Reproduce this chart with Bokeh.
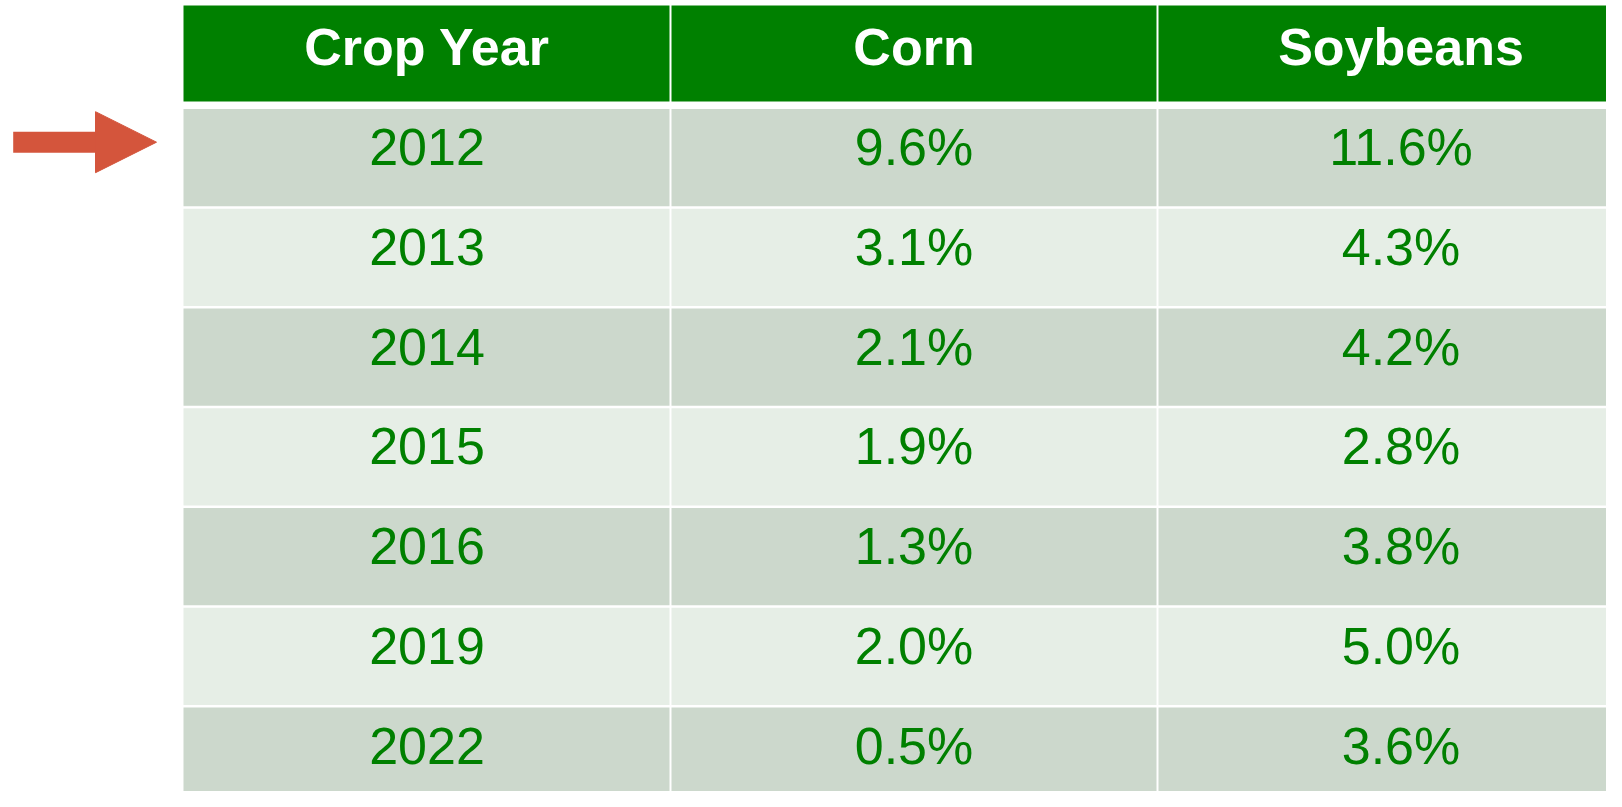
from bokeh.plotting import figure
from bokeh.models import Range1d, ColumnDataSource, Arrow, NormalHead
from bokeh.core.properties import value
from bokeh.embed import file_html
from bokeh.resources import INLINE

# ---- data ----
headers = ["Crop Year", "Corn", "Soybeans"]
years = ["2012", "2013", "2014", "2015", "2016", "2019", "2022"]
corn = [9.6, 3.1, 2.1, 1.9, 1.3, 2.0, 0.5]
soybeans = [11.6, 4.3, 4.2, 2.8, 3.8, 5.0, 3.6]
highlight_row = 0

# ---- layout / style ----
HEADER_BG = "#008000"
ROW_DARK = "#CCD8CC"
ROW_LIGHT = "#E6EEE6"
TEXT_GREEN = "#008000"
ARROW_COLOR = "#D4553C"
FONT = "Liberation Sans"

table_left = 183.0
col_w = 487.0
gap = 2.0
header_top, header_bottom = 5.0, 101.0
rows_top = 108.5
row_pitch = 99.75
row_h = 97.3
header_text_dy = 41.5
row_text_dy = 38.0

W, H = 1606, 791
p = figure(width=W, height=H, output_backend="svg", toolbar_location=None,
           x_range=Range1d(0, W), y_range=Range1d(H, 0),
           min_border=0, outline_line_color=None, background_fill_color="white",
           border_fill_color="white")
p.axis.visible = False
p.grid.visible = False

ncols = len(headers)
col_left = [table_left + c * col_w + (gap / 2 if c > 0 else 0) for c in range(ncols)]
col_right = [table_left + (c + 1) * col_w - gap / 2 for c in range(ncols)]
col_center = [table_left + (c + 0.5) * col_w for c in range(ncols)]

# header cells
p.quad(left=col_left, right=col_right, top=[header_top] * ncols, bottom=[header_bottom] * ncols,
       fill_color=HEADER_BG, line_color=None)
p.text(x=col_center, y=[header_top + header_text_dy] * ncols, text=headers,
       text_font=value(FONT), text_font_style="bold", text_font_size="52px",
       text_color="white", text_align="center", text_baseline="alphabetic")

# body cells
cells = dict(left=[], right=[], top=[], bottom=[], color=[])
txt = dict(x=[], y=[], text=[])
for i, yr in enumerate(years):
    top = rows_top + i * row_pitch
    vals = [yr, f"{corn[i]:.1f}%", f"{soybeans[i]:.1f}%"]
    for c in range(ncols):
        cells["left"].append(col_left[c])
        cells["right"].append(col_right[c])
        cells["top"].append(top)
        cells["bottom"].append(top + row_h)
        cells["color"].append(ROW_DARK if i % 2 == 0 else ROW_LIGHT)
        txt["x"].append(col_center[c])
        txt["y"].append(top + row_text_dy)
        txt["text"].append(vals[c])

p.quad(left="left", right="right", top="top", bottom="bottom", fill_color="color",
       line_color=None, source=ColumnDataSource(cells))
p.text(x="x", y="y", text="text", source=ColumnDataSource(txt),
       text_font=value(FONT), text_font_size="52px", text_color=TEXT_GREEN,
       text_align="center", text_baseline="alphabetic")

# arrow pointing at highlighted row
arrow_y = rows_top + highlight_row * row_pitch + 33.2
p.add_layout(Arrow(x_start=12.7, y_start=arrow_y, x_end=156.0, y_end=arrow_y,
                   line_color=ARROW_COLOR, line_width=21, line_cap="butt",
                   end=NormalHead(size=61, fill_color=ARROW_COLOR, line_color=ARROW_COLOR, line_width=1)))

open("out.html", "w").write(file_html(p, INLINE))
